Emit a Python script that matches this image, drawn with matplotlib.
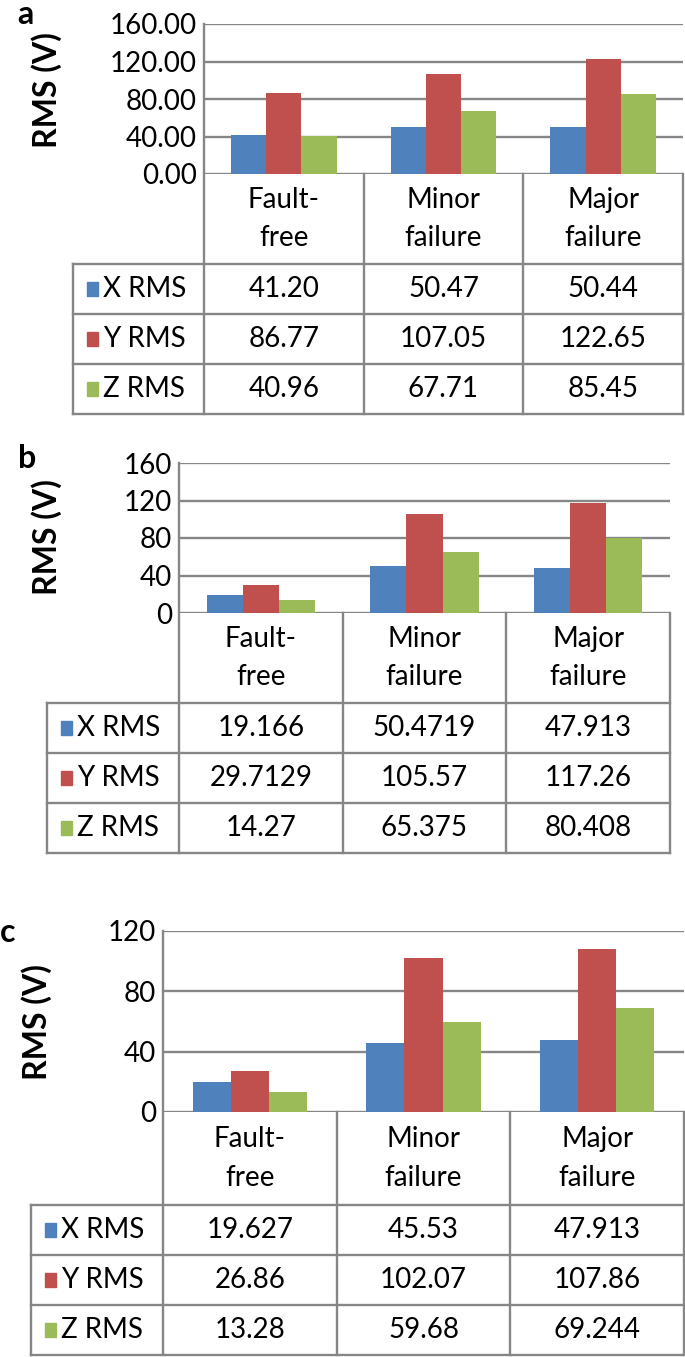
import matplotlib.pyplot as plt

plt.rcParams['font.family'] = ['Lato', 'DejaVu Sans']

# Data
categories = ["Fault-\nfree", "Minor\nfailure", "Major\nfailure"]
series = ["X RMS", "Y RMS", "Z RMS"]
colors = ["#4F81BD", "#C0504D", "#9BBB59"]

a_x = ["41.20", "50.47", "50.44"]
a_y = ["86.77", "107.05", "122.65"]
a_z = ["40.96", "67.71", "85.45"]
a_ticks = [0, 40, 80, 120, 160]
a_ticklabels = ["0.00", "40.00", "80.00", "120.00", "160.00"]

b_x = ["19.166", "50.4719", "47.913"]
b_y = ["29.7129", "105.57", "117.26"]
b_z = ["14.27", "65.375", "80.408"]
b_ticks = [0, 40, 80, 120, 160]
b_ticklabels = ["0", "40", "80", "120", "160"]

c_x = ["19.627", "45.53", "47.913"]
c_y = ["26.86", "102.07", "107.86"]
c_z = ["13.28", "59.68", "69.244"]
c_ticks = [0, 40, 80, 120]
c_ticklabels = ["0", "40", "80", "120"]

W, H = 685, 1357
GRID = "#868686"
FS = 20

fig = plt.figure(figsize=(W / 100, H / 100), dpi=100)
ov = fig.add_axes([0, 0, 1, 1], zorder=5)
ov.set_xlim(0, W)
ov.set_ylim(H, 0)
ov.axis('off')


def panel(letter, rows, ticks, ticklabels, left, right, top, bottom,
          tleft, hbottom, rowh, letter_xy, ylab_xy):
    ax = fig.add_axes([left / W, 1 - bottom / H, (right - left) / W, (bottom - top) / H])
    w = 0.22
    for i, (vals, col) in enumerate(zip(rows, colors)):
        ax.bar([k + (i - 1) * w for k in range(3)], [float(v) for v in vals],
               width=w, color=col, zorder=3)
    ax.set_xlim(-0.5, 2.5)
    ax.set_ylim(ticks[0], ticks[-1])
    ax.set_yticks(ticks)
    ax.set_yticklabels(ticklabels, fontsize=FS)
    ax.tick_params(axis='y', length=0, pad=5)
    ax.set_xticks([])
    ax.yaxis.grid(True, color=GRID, lw=1.7, zorder=0)
    for s in ax.spines.values():
        s.set_visible(False)
    ax.patch.set_alpha(0)

    # data table under the plot
    colw = (right - left) / 3
    xs = [left + k * colw for k in range(4)]
    tbottom = hbottom + 3 * rowh
    lw = 1.7
    ov.plot([left, left], [top, tbottom], color=GRID, lw=lw)
    for x in xs[1:]:
        ov.plot([x, x], [bottom, tbottom], color=GRID, lw=lw)
    ov.plot([tleft, tleft], [hbottom, tbottom], color=GRID, lw=lw)
    for r in range(4):
        y = hbottom + r * rowh
        ov.plot([tleft, right], [y, y], color=GRID, lw=lw)
    for k, cat in enumerate(categories):
        ov.text(xs[k] + colw / 2, (bottom + hbottom) / 2, cat, ha='center', va='center',
                fontsize=FS, linespacing=1.6)
    for r, (name, vals, col) in enumerate(zip(series, rows, colors)):
        yc = hbottom + (r + 0.5) * rowh
        ov.add_patch(plt.Rectangle((tleft + 14, yc - 7), 11, 14, color=col))
        ov.text(tleft + 30, yc, name, ha='left', va='center', fontsize=FS)
        for k, v in enumerate(vals):
            ov.text(xs[k] + colw / 2, yc, v, ha='center', va='center', fontsize=FS)

    ov.text(letter_xy[0], letter_xy[1], letter, ha='center', va='center',
            fontsize=23, fontweight='bold')
    ov.text(ylab_xy[0], ylab_xy[1], "RMS (V)", ha='center', va='center',
            rotation=90, fontsize=23, fontweight='bold')


panel("a", [a_x, a_y, a_z], a_ticks, a_ticklabels, 204, 683, 24, 174,
      73, 264, 50, (25, 15), (47, 90))
panel("b", [b_x, b_y, b_z], b_ticks, b_ticklabels, 179, 670, 463, 613,
      47, 703, 50, (27, 459), (47, 537))
panel("c", [c_x, c_y, c_z], c_ticks, c_ticklabels, 163, 684, 931, 1112,
      31, 1205, 50, (8, 932), (37, 1022))

fig.savefig("out.png", dpi=100)
